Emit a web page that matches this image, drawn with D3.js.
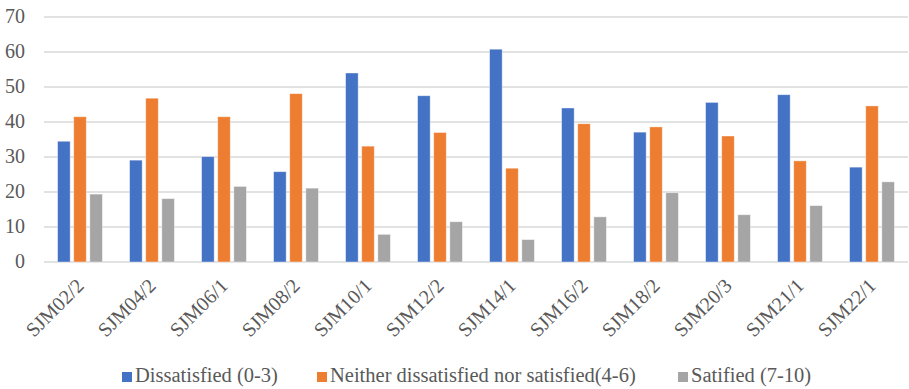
<!DOCTYPE html>
<html>
<head>
<meta charset="utf-8">
<script src="https://cdn.jsdelivr.net/npm/d3@7"></script>
<style>
  html, body { margin: 0; padding: 0; background: #fff; }
</style>
</head>
<body>
<svg id="chart" width="909" height="389"></svg>
<script>
// Survey rounds along the x axis
const categories = ["SJM02/2","SJM04/2","SJM06/1","SJM08/2","SJM10/1","SJM12/2",
                    "SJM14/1","SJM16/2","SJM18/2","SJM20/3","SJM21/1","SJM22/1"];
const seriesNames = ["Dissatisfied (0-3)", "Neither dissatisfied nor satisfied(4-6)", "Satified (7-10)"];
const dissatisfied = [34.5, 29.1, 30.1, 25.8, 54.0, 47.5, 60.8, 44.0, 37.1, 45.6, 47.8, 27.1];
const neither      = [41.5, 46.8, 41.5, 48.1, 33.1, 37.0, 26.8, 39.5, 38.6, 36.0, 28.9, 44.6];
const satisfied    = [19.4, 18.1, 21.6, 21.1,  7.9, 11.5,  6.4, 12.9, 19.8, 13.5, 16.1, 22.9];
const yTicks = [0, 10, 20, 30, 40, 50, 60, 70];
const colors = ["#4472C4", "#ED7D31", "#A5A5A5"];

const seriesValues = [dissatisfied, neither, satisfied];
const svg = d3.select("#chart");
const margin = { top: 17, right: 1, bottom: 127, left: 44 };
const W = 909, H = 389;
const textColor = "#595959";
const fontStack = '"Liberation Serif", "Tinos", "Times New Roman"';

const x = d3.scaleBand().domain(categories).range([margin.left, W - margin.right]).paddingInner(0).paddingOuter(0);
const x1 = d3.scaleBand().domain(d3.range(3)).range([-22.4, 22.4]).paddingInner(0.22);
const y = d3.scaleLinear().domain([0, 70]).range([H - margin.bottom, margin.top]);

// horizontal gridlines
svg.append("g")
  .selectAll("line")
  .data(yTicks)
  .join("line")
  .attr("x1", margin.left).attr("x2", W - margin.right)
  .attr("y1", d => y(d)).attr("y2", d => y(d))
  .attr("stroke", "#D9D9D9").attr("stroke-width", 1.5);

// value axis labels
const yAxis = svg.append("g")
  .attr("transform", `translate(${margin.left},0)`)
  .call(d3.axisLeft(y).tickValues(yTicks).tickSize(0).tickPadding(19).tickFormat(d3.format("d")));
yAxis.select(".domain").remove();
yAxis.selectAll("text")
  .attr("fill", textColor)
  .attr("dy", "0.28em")
  .style("font-family", fontStack)
  .style("font-size", "20px");

// grouped bars
const groups = svg.append("g")
  .selectAll("g")
  .data(categories)
  .join("g")
  .attr("transform", d => `translate(${x(d) + x.bandwidth() / 2},0)`);

groups.selectAll("rect")
  .data((d, i) => seriesValues.map((vals, s) => ({ s, v: vals[i] })))
  .join("rect")
  .attr("x", d => x1(d.s))
  .attr("width", x1.bandwidth())
  .attr("y", d => y(d.v))
  .attr("height", d => y(0) - y(d.v))
  .attr("fill", d => colors[d.s])
  .attr("stroke", "#ffffff").attr("stroke-opacity", 0.5).attr("stroke-width", 0.8);

// category labels, rotated 45 degrees
const xAxis = svg.append("g")
  .attr("transform", `translate(0,${y(0)})`)
  .call(d3.axisBottom(x).tickSize(0).tickPadding(0));
xAxis.select(".domain").remove();
xAxis.selectAll("text")
  .attr("fill", textColor)
  .attr("y", 0)
  .attr("dy", null)
  .attr("text-anchor", "end")
  .attr("transform", "translate(5,25) rotate(-45)")
  .style("font-family", fontStack)
  .style("font-size", "20px");

// legend
const legendX = [122, 317, 678];
const legend = svg.append("g");
legend.selectAll("rect")
  .data(seriesNames)
  .join("rect")
  .attr("x", (d, i) => legendX[i]).attr("y", 372)
  .attr("width", 10).attr("height", 10)
  .attr("fill", (d, i) => colors[i]);
legend.selectAll("text")
  .data(seriesNames)
  .join("text")
  .attr("x", (d, i) => legendX[i] + 13).attr("y", 382)
  .attr("fill", textColor)
  .style("font-family", fontStack)
  .style("font-size", "20.5px")
  .text(d => d);
</script>
</body>
</html>
